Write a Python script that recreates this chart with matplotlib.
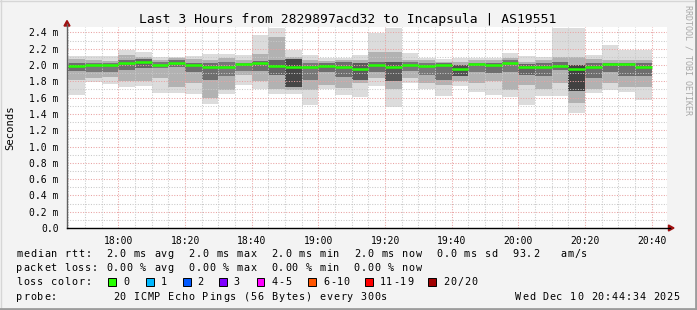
import matplotlib
matplotlib.use("Agg")
import matplotlib.pyplot as plt
import numpy as np
from matplotlib.lines import Line2D
from matplotlib.patches import Polygon, Rectangle

W, H = 697, 310

# 35 five-minute steps, first one starts 17:45 (minutes since midnight)
step_start = 17 * 60 + 45
t_end = 20 * 60 + 44 + 34 / 60.0
times = step_start + 5 * np.arange(35)

# median rtt per step (ms)
median = [1.99, 2.00, 2.00, 2.03, 2.04, 2.00, 2.03, 2.00, 1.98, 1.98,
          2.01, 2.03, 1.99, 1.97, 1.98, 1.99, 1.97, 1.95, 2.00, 1.98,
          2.00, 1.99, 2.00, 1.95, 2.01, 2.00, 2.03, 1.98, 1.97, 1.99,
          1.95, 1.97, 2.01, 2.01, 1.98]
# smoke: outer range (all pings)
smoke_lo = [1.63, 1.79, 1.77, 1.73, 1.74, 1.66, 1.66, 1.64, 1.52, 1.65,
            1.76, 1.70, 1.65, 1.65, 1.51, 1.70, 1.63, 1.61, 1.74, 1.48,
            1.78, 1.71, 1.62, 1.74, 1.67, 1.63, 1.61, 1.51, 1.62, 1.62,
            1.41, 1.66, 1.69, 1.67, 1.57]
smoke_hi = [2.11, 2.11, 2.11, 2.18, 2.16, 2.10, 2.10, 2.11, 2.13, 2.13,
            2.12, 2.37, 2.45, 2.18, 2.12, 2.08, 2.09, 2.12, 2.39, 2.46,
            2.15, 2.09, 2.07, 2.09, 2.08, 2.08, 2.15, 2.11, 2.10, 2.46,
            2.46, 2.12, 2.25, 2.18, 2.18]
# smoke: middle band
mid_lo = [1.82, 1.84, 1.85, 1.80, 1.80, 1.84, 1.73, 1.78, 1.59, 1.69,
          1.88, 1.80, 1.70, 1.69, 1.69, 1.75, 1.72, 1.78, 1.84, 1.70,
          1.84, 1.78, 1.75, 1.80, 1.78, 1.80, 1.69, 1.75, 1.71, 1.78,
          1.53, 1.71, 1.78, 1.73, 1.73]
mid_hi = [2.07, 2.06, 2.05, 2.12, 2.10, 2.06, 2.08, 2.07, 2.06, 2.08,
          2.06, 2.14, 2.34, 2.10, 2.06, 2.05, 2.06, 2.06, 2.16, 2.16,
          2.06, 2.06, 2.04, 2.04, 2.06, 2.06, 2.08, 2.04, 2.06, 2.10,
          2.10, 2.07, 2.06, 2.06, 2.06]
# smoke: dense core
core_lo = [1.93, 1.92, 1.92, 1.94, 1.96, 1.96, 1.98, 1.92, 1.82, 1.86,
           1.93, 1.93, 1.88, 1.73, 1.82, 1.92, 1.85, 1.82, 1.92, 1.80,
           1.93, 1.88, 1.82, 1.86, 1.92, 1.90, 1.92, 1.88, 1.86, 1.94,
           1.68, 1.84, 1.92, 1.86, 1.86]
core_hi = [2.03, 2.03, 2.02, 2.06, 2.07, 2.04, 2.06, 2.02, 2.02, 2.04,
           2.03, 2.05, 2.06, 2.07, 2.02, 2.03, 2.04, 2.02, 2.04, 2.04,
           2.04, 2.02, 2.02, 2.00, 2.03, 2.03, 2.06, 2.01, 2.02, 2.04,
           2.00, 2.02, 2.03, 2.02, 2.02]
core_gray = [110, 120, 120, 110, 100, 120, 110, 110, 110, 120,
             120, 110, 100, 70, 120, 110, 110, 90, 110, 90,
             120, 120, 110, 80, 120, 110, 120, 100, 110, 110,
             65, 110, 110, 110, 110]

y_ticks = np.arange(0, 2.41, 0.2)
y_labels = ["0.0"] + ["%.1f m" % v for v in y_ticks[1:]]
x_ticks = np.arange(18 * 60, 20 * 60 + 41, 20)
x_labels = ["%02d:%02d" % (m // 60, m % 60) for m in x_ticks]

loss_labels = ["0", "1", "2", "3", "4-5", "6-10", "11-19", "20/20"]
loss_colors = ["#26ff00", "#00b8ff", "#0059ff", "#7e00ff",
               "#ff00ff", "#ff5500", "#ff0000", "#a10000"]

MONO = "DejaVu Sans Mono"

fig = plt.figure(figsize=(W / 100, H / 100), dpi=100, facecolor="#f3f3f3")


def fx(x):
    return x / W


def fy(y):
    return 1 - y / H


def mono(x, y, s, cw=6.885, size=7.3, color="black"):
    # rrdtool legend text sits on a fixed character grid
    for i, ch in enumerate(s):
        if ch != " ":
            fig.text(fx(x + i * cw + cw / 2), fy(y), ch, ha="center", va="center",
                     family=MONO, fontsize=size, color=color)


ax = fig.add_axes([fx(67), fy(228), 600 / W, (228 - 26.7) / H])
ax.set_facecolor("white")
ax.set_xlim(t_end - 180, t_end)
ax.set_ylim(0, 2.47)

lo = np.array(smoke_lo)
hi = np.array(smoke_hi)
ax.bar(times, hi - lo, bottom=lo, width=5, align="edge", color="#dcdcdc", lw=0, zorder=1)
ax.bar(times, np.array(mid_hi) - np.array(mid_lo), bottom=mid_lo, width=5, align="edge",
       color="#b2b2b2", lw=0, zorder=2)
core_cols = [(g / 255, g / 255, g / 255) for g in core_gray]
ax.bar(times, np.array(core_hi) - np.array(core_lo), bottom=core_lo, width=5, align="edge",
       color=core_cols, lw=0, zorder=3)

# grid on top of the smoke, like rrdtool
for v in np.arange(0.1, 2.41, 0.1):
    major = int(round(v * 10)) % 2 == 0
    ax.axhline(v, color="#e9a3a3" if major else "#c9c9c9", lw=0.75,
               ls=(0, (1, 1.5)), zorder=5)
for m in range(step_start, int(t_end) + 1, 5):
    major = m % 20 == 0
    ax.axvline(m, color="#e9a3a3" if major else "#c9c9c9", lw=0.75,
               ls=(0, (1, 1.5)), zorder=5)

ax.hlines(median, times, times + 5, color="#22ff00", lw=1.8, zorder=6)

for s in ax.spines.values():
    s.set_visible(False)
ax.set_yticks(y_ticks)
ax.set_yticklabels(y_labels, family=MONO, fontsize=7)
ax.set_xticks(x_ticks)
ax.set_xticklabels(x_labels, family=MONO, fontsize=7)
ax.tick_params(length=0, pad=5.5)
ax.tick_params(axis="y", pad=6)

# axes with arrow heads
fig.add_artist(Line2D([fx(67), fx(67)], [fy(228), fy(24)], color="#606060", lw=1))
fig.add_artist(Line2D([fx(67), fx(670)], [fy(228), fy(228)], color="black", lw=1))
fig.add_artist(Polygon([(fx(64), fy(26)), (fx(70), fy(26)), (fx(67), fy(20.5))],
                       closed=True, color="#a01010"))
fig.add_artist(Polygon([(fx(668.5), fy(225)), (fx(668.5), fy(231)), (fx(674), fy(228))],
                       closed=True, color="#a01010"))

fig.text(fx(348), fy(19), "Last 3 Hours from 2829897acd32 to Incapsula | AS19551",
         ha="center", va="center", family=MONO, fontsize=9.4)
fig.text(fx(10), fy(128), "Seconds", rotation=90, ha="center", va="center",
         family=MONO, fontsize=7.6)
fig.text(fx(688), fy(60), "RRDTOOL / TOBI OETIKER", rotation=270, ha="center",
         va="center", family=MONO, fontsize=6, color="#a8a8a8")

mono(16, 254, "median rtt:  2.0 ms avg  2.0 ms max  2.0 ms min  2.0 ms now  0.0 ms sd  93.2   am/s")
mono(16, 268, "packet loss: 0.00 % avg  0.00 % max  0.00 % min  0.00 % now")
mono(16, 282, "loss color:")
box_x = [108.3, 146, 183.3, 219.3, 256.7, 308.3, 365, 428.3]
text_x = [122.7, 160, 197, 233, 271, 322.7, 379, 443]
for bx, tx, lab, col in zip(box_x, text_x, loss_labels, loss_colors):
    fig.add_artist(Rectangle((fx(bx), fy(285.5)), 7.5 / W, 7.5 / H, facecolor=col,
                             edgecolor="black", lw=0.7))
    mono(tx, 282, lab)
mono(16, 296.5, "probe:        20 ICMP Echo Pings (56 Bytes) every 300s")
mono(680 - 24 * 6.885, 296.5, "Wed Dec 10 20:44:34 2025")

# 3d frame of the rrdtool image
fig.add_artist(Line2D([0, 1], [fy(0.5), fy(0.5)], color="#d6d6d6", lw=1))
fig.add_artist(Line2D([fx(0.5), fx(0.5)], [0, 1], color="#d6d6d6", lw=1))
fig.add_artist(Line2D([0, 1], [fy(309), fy(309)], color="#9c9c9c", lw=2))
fig.add_artist(Line2D([fx(696), fx(696)], [0, 1], color="#9c9c9c", lw=2))

fig.savefig("out.png", dpi=100, facecolor=fig.get_facecolor())
